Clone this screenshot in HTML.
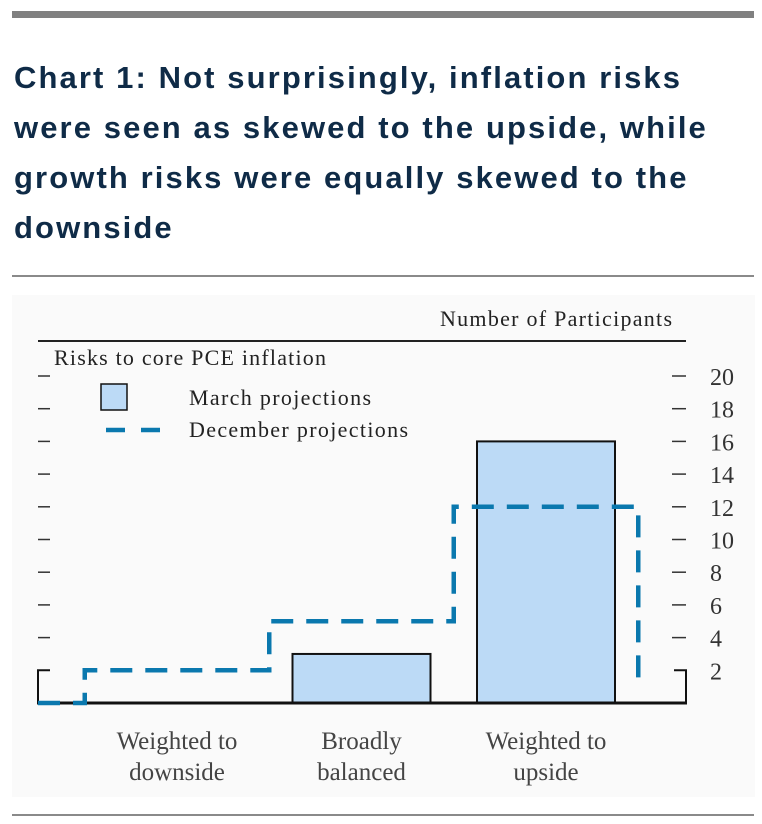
<!DOCTYPE html>
<html><head><meta charset="utf-8"><style>
body{margin:0;width:762px;height:824px;background:#fff;position:relative;overflow:hidden;font-family:"Liberation Sans",sans-serif}
#topbar{position:absolute;left:12px;top:11px;width:742px;height:7px;background:#808080}
#title{position:absolute;left:14px;top:53px;width:745px;font-weight:bold;font-size:31px;letter-spacing:2.1px;line-height:50px;color:#0f2b47;margin:0;white-space:nowrap}
.rule{position:absolute;left:12px;width:742px;height:2px;background:#8a8a8a}
svg{position:absolute;left:0;top:0}
</style></head><body>
<div id="topbar"></div>
<h1 id="title">Chart 1: Not surprisingly, inflation risks<br>were seen as skewed to the upside, while<br>growth risks were equally skewed to the<br>downside</h1>
<div class="rule" style="top:275px"></div>
<div class="rule" style="top:814px"></div>
<svg id="chart" width="762" height="824" font-family="Liberation Serif, serif"></svg>
<script>
const categories=[["Weighted to","downside"],["Broadly","balanced"],["Weighted to","upside"]];
const marchValues=[0,3,16];
const decemberValues=[2,5,12];
const yTicks=[2,4,6,8,10,12,14,16,18,20];
const NS="http://www.w3.org/2000/svg";
const svg=document.getElementById("chart");
const x0=38,x1=686,y0=703,yUnit=16.35,cx0=177,step=184.5,bw=138;
const y=v=>y0-v*yUnit;
const cx=i=>cx0+i*step;
function mk(t,a,p){const e=document.createElementNS(NS,t);for(const k in a)e.setAttribute(k,a[k]);(p||svg).appendChild(e);return e;}
const bg=mk("rect",{x:12,y:295,width:743,height:502,fill:"#fafafa"});


const t1=mk("text",{x:672,y:326,"text-anchor":"end","font-size":22,fill:"#222",textLength:232});t1.textContent="Number of Participants";


const tl=mk("line",{x1:x0,x2:x1,y1:341,y2:341,stroke:"#222","stroke-width":2});


const st=mk("text",{x:54,y:365,"font-size":22,fill:"#222",textLength:272});st.textContent="Risks to core PCE inflation";


yTicks.forEach(v=>{
  const yy=y(v);
  if(v>2){mk("line",{x1:38,x2:50,y1:yy,y2:yy,stroke:"#333","stroke-width":1.5});
  mk("line",{x1:672,x2:686,y1:yy,y2:yy,stroke:"#333","stroke-width":1.5});}
  const tx=mk("text",{x:710,y:yy+9,"font-size":24,fill:"#333"});tx.textContent=v;
  
  
});
mk("polyline",{points:`${x0+12},${y(2)} ${x0},${y(2)} ${x0},${y0}`,fill:"none",stroke:"#111","stroke-width":2});
mk("polyline",{points:`${x1-12},${y(2)} ${x1},${y(2)} ${x1},${y0}`,fill:"none",stroke:"#111","stroke-width":2});
marchValues.forEach((v,i)=>{
  if(v<=0)return;
  const r=mk("rect",{x:cx(i)-bw/2,y:y(v),width:bw,height:y0-y(v),fill:"#bcdaf6",stroke:"#111","stroke-width":2});
  
  
});
const ax=mk("line",{x1:x0-1,x2:x1+1,y1:y0,y2:y0,stroke:"#111","stroke-width":3});


let pts=[[x0,y0]];
decemberValues.forEach((v,i)=>{const l=cx(i)-step/2,r=cx(i)+step/2;pts.push([l,pts[pts.length-1][1]]);pts.push([l,y(v)]);pts.push([r,y(v)]);});
pts.push([pts[pts.length-1][0],y0-25]);
const dl=mk("polyline",{points:pts.map(p=>p.join(",")).join(" "),fill:"none",stroke:"#0a78ae","stroke-width":4.5,"stroke-dasharray":"22,13"});


categories.forEach((c,i)=>{
  c.forEach((s,j)=>{const t=mk("text",{x:cx(i),y:749+j*31,"text-anchor":"middle","font-size":25,fill:"#444"});t.textContent=s;
  
  });
});
const lg=mk("g",{});


mk("rect",{x:101,y:384,width:26,height:26,fill:"#bcdaf6",stroke:"#111","stroke-width":1.5},lg);
const l1=mk("text",{x:189,y:405,"font-size":22,fill:"#222",textLength:182},lg);l1.textContent="March projections";
mk("line",{x1:106,x2:160,y1:430,y2:430,stroke:"#0a78ae","stroke-width":4.5,"stroke-dasharray":"19,16"},lg);
const l2=mk("text",{x:189,y:437,"font-size":22,fill:"#222",textLength:219},lg);l2.textContent="December projections";
</script>
</body></html>
